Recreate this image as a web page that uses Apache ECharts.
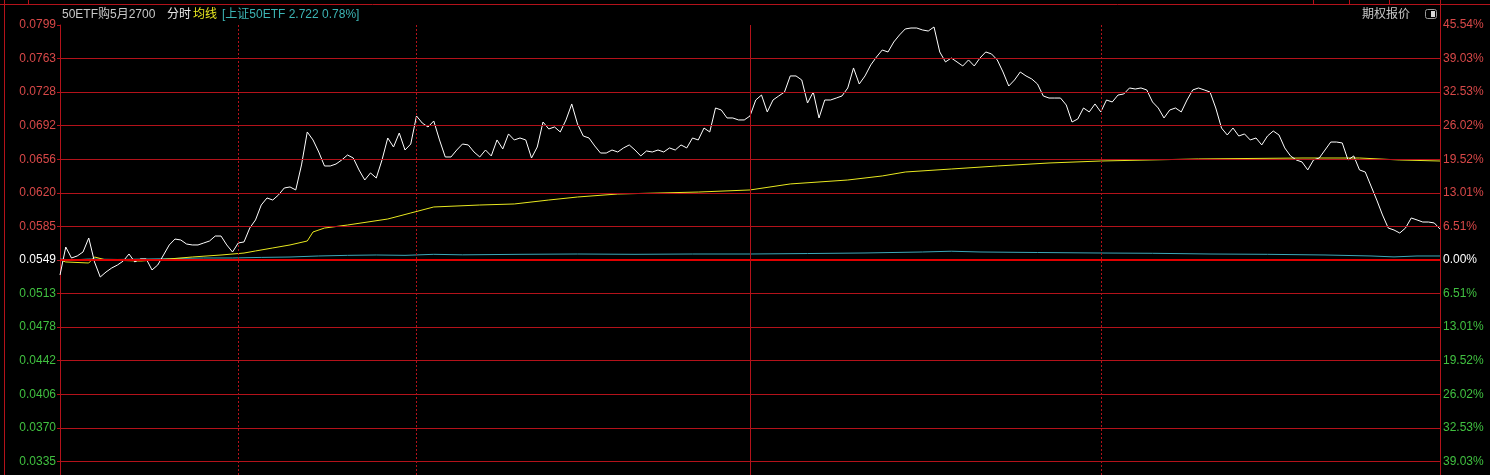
<!DOCTYPE html>
<html>
<head>
<meta charset="utf-8">
<script src="https://cdn.jsdelivr.net/npm/echarts@6/dist/echarts.min.js"></script>
<style>
html,body{margin:0;padding:0;background:#000;}
#chart{width:1490px;height:475px;}
</style>
</head>
<body>
<div id="chart"></div>
<script>
// ---------- data ----------
const preClose = 0.0549;           // option previous settle
const topPrice = 0.0799;           // top tick
const tickSteps = [-6,-5,-4,-3,-2,-1,0,1,2,3,4,5,6,7];
const leftTickLabels = ['0.0335','0.0370','0.0406','0.0442','0.0478','0.0513','0.0549','0.0585','0.0620','0.0656','0.0692','0.0728','0.0763','0.0799'];
const rightTickLabels = ['39.03%','32.53%','26.02%','19.52%','13.01%','6.51%','0.00%','6.51%','13.01%','19.52%','26.02%','32.53%','39.03%','45.54%'];

// option price, one value per minute (09:30 .. 11:30, 13:01 .. 15:00)
const price = [
0.05330,0.05628,0.05511,0.05533,0.05575,0.05724,0.05469,0.05309,0.05362,0.05405,
0.05437,0.05479,0.05554,0.05469,0.05501,0.05501,0.05384,0.05437,0.05543,0.05650,
0.05713,0.05703,0.05660,0.05650,0.05650,0.05671,0.05692,0.05745,0.05745,0.05650,
0.05575,0.05671,0.05682,0.05830,0.05916,0.06075,0.06150,0.06128,0.06182,0.06256,
0.06267,0.06235,0.06501,0.06852,0.06767,0.06639,0.06490,0.06490,0.06511,0.06554,
0.06607,0.06575,0.06448,0.06341,0.06416,0.06362,0.06554,0.06788,0.06692,0.06841,
0.06660,0.06724,0.07022,0.06947,0.06905,0.06969,0.06767,0.06586,0.06586,0.06660,
0.06724,0.06714,0.06639,0.06586,0.06660,0.06597,0.06767,0.06671,0.06831,0.06767,
0.06788,0.06767,0.06575,0.06692,0.06958,0.06884,0.06905,0.06852,0.06980,0.07150,
0.06937,0.06809,0.06788,0.06703,0.06628,0.06628,0.06660,0.06639,0.06682,0.06714,
0.06660,0.06597,0.06650,0.06639,0.06660,0.06639,0.06682,0.06660,0.06714,0.06682,
0.06788,0.06767,0.06894,0.06852,0.07107,0.07086,0.07001,0.07001,0.06980,0.06980,
0.07022,0.07192,0.07245,0.07065,0.07192,0.07235,0.07277,0.07448,0.07448,0.07405,
0.07160,0.07277,0.07001,0.07192,0.07192,0.07213,0.07235,0.07320,0.07533,0.07362,
0.07448,0.07565,0.07650,0.07724,0.07703,0.07809,0.07884,0.07948,0.07958,0.07958,
0.07937,0.07926,0.07969,0.07703,0.07597,0.07639,0.07597,0.07554,0.07618,0.07554,
0.07639,0.07703,0.07682,0.07618,0.07490,0.07341,0.07405,0.07490,0.07448,0.07416,
0.07362,0.07235,0.07213,0.07213,0.07213,0.07139,0.06958,0.06990,0.07107,0.07065,
0.07150,0.07065,0.07192,0.07171,0.07245,0.07256,0.07320,0.07309,0.07320,0.07299,
0.07171,0.07107,0.07001,0.07086,0.07107,0.07065,0.07192,0.07299,0.07320,0.07299,
0.07277,0.07107,0.06894,0.06820,0.06894,0.06809,0.06831,0.06767,0.06788,0.06714,
0.06809,0.06862,0.06820,0.06682,0.06597,0.06554,0.06533,0.06448,0.06554,0.06575,
0.06660,0.06745,0.06745,0.06735,0.06554,0.06597,0.06448,0.06426,0.06277,0.06128,
0.05969,0.05830,0.05809,0.05777,0.05830,0.05937,0.05916,0.05894,0.05894,0.05884,
0.05820
];

// average price line (minute index, value)
const avgMinutes = [0,1,5,6,8,14,19,23,28,32,34,37,40,43,44,46,50,57,61,65,73,79,85,90,97,111,120,127,137,143,147,155,163,172,181,198,216,226,233,240];
const avgValues  = [0.05490,0.05469,0.05458,0.05522,0.05490,0.05479,0.05501,0.05522,0.05543,0.05564,0.05586,0.05618,0.05650,0.05692,0.05788,0.05830,0.05862,0.05926,0.05990,0.06054,0.06075,0.06086,0.06128,0.06160,0.06192,0.06213,0.06235,0.06299,0.06341,0.06384,0.06426,0.06458,0.06490,0.06522,0.06543,0.06565,0.06575,0.06575,0.06554,0.06543];

// 上证50ETF change in % (minute index, value)
const etfMinutes = [0,2,5,10,15,20,25,30,35,40,45,50,55,60,65,70,80,90,100,110,120,130,140,150,155,160,170,180,190,200,210,220,228,232,236,240];
const etfPct     = [0.19,0.00,0.19,0.10,0.19,0.29,0.39,0.39,0.50,0.58,0.78,0.90,0.97,0.90,1.10,1.00,1.10,1.16,1.10,1.16,1.16,1.25,1.36,1.55,1.70,1.55,1.45,1.36,1.30,1.16,1.10,0.97,0.78,0.60,0.78,0.78];

// minute markers for vertical guide lines
const dottedMinutes = [31, 62, 181];
const solidMinutes = [120];

// ---------- build ----------
const categories = [];
for (let i = 0; i <= 240; i++) {
  let t = i <= 120 ? 9*60+30+i : 13*60+(i-120);
  categories.push(String(Math.floor(t/60)).padStart(2,'0') + ':' + String(t%60).padStart(2,'0'));
}
const step = (topPrice - preClose) / 7;
const pctStep = step / preClose * 100;
const bottomSteps = 6.4046;   // plot extends slightly below the last tick
const RED_GRID = '#b3121a';
const LBL_RED = '#d84848';
const LBL_GREEN = '#40c040';
const FONT = "'Liberation Sans', 'Noto Sans CJK SC', sans-serif";

const gridLineData = tickSteps.map(k => ({
  yAxis: k * pctStep,
  lineStyle: k === 0 ? {color: '#e00000', width: 2, type: 'solid'} : {color: RED_GRID, width: 1, type: 'solid'}
}));
dottedMinutes.forEach(m => gridLineData.push({xAxis: categories[m], lineStyle: {color: RED_GRID, width: 1, type: [2, 2]}}));
solidMinutes.forEach(m => gridLineData.push({xAxis: categories[m], lineStyle: {color: RED_GRID, width: 1, type: 'solid'}}));

function lblColor(k) { return k > 0 ? LBL_RED : (k < 0 ? LBL_GREEN : '#ffffff'); }

const chart = echarts.init(document.getElementById('chart'), null, {renderer: 'canvas'});
const option = {
  backgroundColor: '#000000',
  animation: false,
  grid: {left: 60, right: 50, top: 25, bottom: 0, containLabel: false},
  xAxis: {
    type: 'category', data: categories, boundaryGap: false,
    axisLine: {show: false}, axisTick: {show: false}, axisLabel: {show: false}, splitLine: {show: false}
  },
  yAxis: [
    {
      type: 'value', position: 'left',
      min: preClose - bottomSteps * step, max: preClose + 7 * step,
      axisLine: {show: true, lineStyle: {color: RED_GRID, width: 1}},
      axisTick: {show: true, inside: false, length: 3, lineStyle: {color: RED_GRID}, customValues: tickSteps.map(k => preClose + k * step)},
      splitLine: {show: false},
      axisLabel: {
        customValues: tickSteps.map(k => preClose + k * step),
        margin: 4, fontSize: 12, fontFamily: FONT,
        formatter: function (v) { return leftTickLabels[Math.round((v - preClose) / step) + 6]; },
        color: function (v) { return lblColor(Math.round((v - preClose) / step)); }
      }
    },
    {
      type: 'value', position: 'right',
      min: -bottomSteps * pctStep, max: 7 * pctStep,
      axisLine: {show: true, lineStyle: {color: RED_GRID, width: 1}},
      axisTick: {show: false, customValues: tickSteps.map(k => k * pctStep)},
      splitLine: {show: false},
      axisLabel: {
        customValues: tickSteps.map(k => k * pctStep),
        margin: 3, fontSize: 12, fontFamily: FONT,
        formatter: function (v) { return rightTickLabels[Math.round(v / pctStep) + 6]; },
        color: function (v) { return lblColor(Math.round(v / pctStep)); }
      }
    }
  ],
  series: [
    {
      name: '上证50ETF', type: 'line', yAxisIndex: 1, z: 2,
      data: etfMinutes.map((m, i) => [m, etfPct[i]]),
      showSymbol: false, symbol: 'none',
      lineStyle: {color: '#3aa8ba', width: 1},
      markLine: {
        silent: true, symbol: ['none', 'none'], label: {show: false},
        emphasis: {disabled: true}, animation: false,
        data: gridLineData
      }
    },
    {
      name: '均线', type: 'line', yAxisIndex: 0, z: 3,
      data: avgMinutes.map((m, i) => [m, avgValues[i]]),
      showSymbol: false, symbol: 'none',
      lineStyle: {color: '#e8e820', width: 1}
    },
    {
      name: '50ETF购5月2700', type: 'line', yAxisIndex: 0, z: 4,
      data: price,
      showSymbol: false, symbol: 'none',
      lineStyle: {color: '#ffffff', width: 1}
    }
  ],
  graphic: [
    {type: 'line', silent: true, shape: {x1: 4.5, y1: 0, x2: 4.5, y2: 475}, style: {stroke: RED_GRID, lineWidth: 1}},
    {type: 'line', silent: true, shape: {x1: 0, y1: 4.5, x2: 1490, y2: 4.5}, style: {stroke: RED_GRID, lineWidth: 1}},
    {type: 'line', silent: true, shape: {x1: 28.5, y1: 0, x2: 28.5, y2: 4}, style: {stroke: RED_GRID, lineWidth: 1}},
    {type: 'line', silent: true, shape: {x1: 1313.5, y1: 0, x2: 1313.5, y2: 4}, style: {stroke: RED_GRID, lineWidth: 1}},
    {type: 'line', silent: true, shape: {x1: 1349.5, y1: 0, x2: 1349.5, y2: 4}, style: {stroke: RED_GRID, lineWidth: 1}},
    {type: 'line', silent: true, shape: {x1: 1389.5, y1: 0, x2: 1389.5, y2: 4}, style: {stroke: RED_GRID, lineWidth: 1}},
    {type: 'line', silent: true, shape: {x1: 1440.5, y1: 0, x2: 1440.5, y2: 25}, style: {stroke: RED_GRID, lineWidth: 1}},
    {type: 'text', silent: true, x: 62, y: 15, style: {text: '50ETF购5月2700', fill: '#c8c8c8', font: '12px ' + FONT, textVerticalAlign: 'middle'}},
    {type: 'text', silent: true, x: 167, y: 15, style: {text: '分时', fill: '#e8e8e8', font: '12px ' + FONT, textVerticalAlign: 'middle'}},
    {type: 'text', silent: true, x: 193, y: 15, style: {text: '均线', fill: '#e8e820', font: '12px ' + FONT, textVerticalAlign: 'middle'}},
    {type: 'text', silent: true, x: 222, y: 15, style: {text: '[上证50ETF 2.722 0.78%]', fill: '#3cb4b4', font: '12px ' + FONT, textVerticalAlign: 'middle'}},
    {type: 'text', silent: true, x: 1362, y: 15, style: {text: '期权报价', fill: '#c8c8c8', font: '12px ' + FONT, textVerticalAlign: 'middle'}},
    {type: 'rect', silent: true, shape: {x: 1425.5, y: 9.5, width: 11, height: 9, r: 2}, style: {fill: '#000', stroke: '#9a9a9a', lineWidth: 1}},
    {type: 'rect', silent: true, shape: {x: 1431, y: 11, width: 4, height: 6}, style: {fill: '#d8d8d8'}}
  ]
};
chart.setOption(option);
</script>
</body>
</html>
